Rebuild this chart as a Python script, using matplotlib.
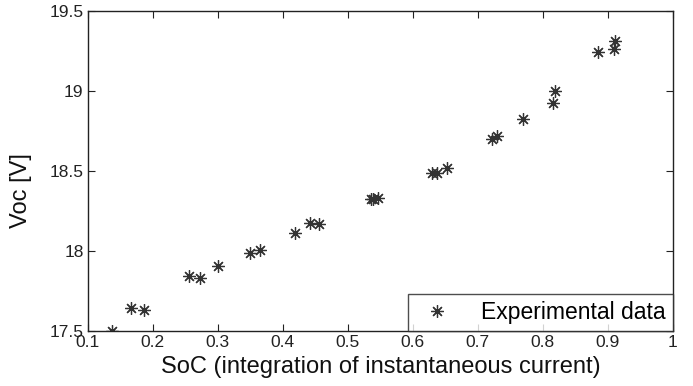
import matplotlib
matplotlib.use("Agg")
import matplotlib.pyplot as plt

plt.rcParams['font.family'] = ['Liberation Sans', 'DejaVu Sans']

soc = [0.137, 0.166, 0.186, 0.256, 0.272, 0.301, 0.349, 0.365, 0.419, 0.442, 0.456,
       0.535, 0.539, 0.546, 0.629, 0.637, 0.652, 0.722, 0.729, 0.769, 0.815, 0.819,
       0.884, 0.910, 0.911]
voc = [17.50, 17.646, 17.631, 17.846, 17.833, 17.906, 17.99, 18.006, 18.11, 18.173, 18.17,
       18.325, 18.325, 18.33, 18.486, 18.49, 18.52, 18.70, 18.72, 18.825, 18.923, 19.0,
       19.242, 19.26, 19.31]
xticks = [0.1, 0.2, 0.3, 0.4, 0.5, 0.6, 0.7, 0.8, 0.9, 1.0]
xticklabels = ['0.1', '0.2', '0.3', '0.4', '0.5', '0.6', '0.7', '0.8', '0.9', '1']
yticks = [17.5, 18.0, 18.5, 19.0, 19.5]
yticklabels = ['17.5', '18', '18.5', '19', '19.5']

fig = plt.figure(figsize=(6.93, 3.86), dpi=100)
ax = fig.add_axes([87.7/693, 1 - 331/386, (673 - 87.7)/693, (331 - 11)/386])

ax.plot(soc, voc, linestyle='none', marker=(8, 2, 0), markersize=9,
        markeredgewidth=0.9, color='#333333', label='Experimental data')

ax.set_xlim(0.1, 1.0)
ax.set_ylim(17.5, 19.5)
ax.set_xticks(xticks)
ax.set_xticklabels(xticklabels)
ax.set_yticks(yticks)
ax.set_yticklabels(yticklabels)
ax.tick_params(direction='in', length=5, width=0.8, top=True, right=True,
               labelsize=12.5, colors='#222222', pad=3)
for s in ax.spines.values():
    s.set_color('#222222')
    s.set_linewidth(1.0)

ax.set_xlabel('SoC (integration of instantaneous current)', fontsize=17, color='#111111', labelpad=4)
ax.set_ylabel('Voc [V]', fontsize=17, color='#111111')
ax.yaxis.set_label_coords(-0.095, 0.44)

leg = ax.legend(loc='lower right', fontsize=16.5, frameon=True, fancybox=False,
                borderaxespad=0, handlelength=1.9, handletextpad=1.0,
                borderpad=0.3, markerscale=1.0)
leg.get_frame().set_edgecolor('#222222')
leg.get_frame().set_linewidth(1.0)

fig.savefig('out.png', dpi=100)
